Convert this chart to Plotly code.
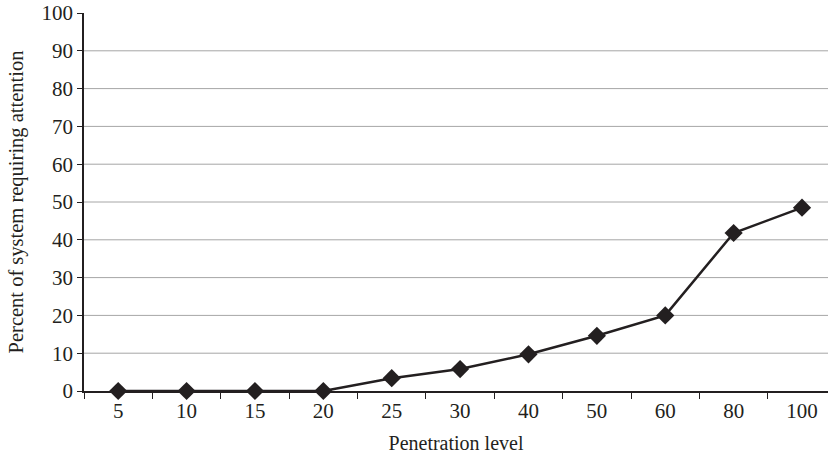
import plotly.graph_objects as go

# Penetration levels (categorical x) and share of system needing attention (%)
penetration = ["5", "10", "15", "20", "25", "30", "40", "50", "60", "80", "100"]
percent_attention = [0, 0, 0, 0, 3.4, 5.8, 9.7, 14.6, 20.0, 41.8, 48.5]
y_ticks = list(range(0, 101, 10))

ink = "#231f20"
grid = "#a6a6a6"
serif = "Liberation Serif, Times New Roman, serif"

fig = go.Figure()
fig.add_trace(go.Scatter(
    x=penetration,
    y=percent_attention,
    mode="lines+markers",
    line=dict(color=ink, width=2.5),
    marker=dict(symbol="diamond", size=14, color=ink),
    cliponaxis=False,
    showlegend=False,
))

# horizontal gridlines at inner tick levels only
for level in y_ticks[1:-1]:
    fig.add_shape(type="line", xref="paper", yref="y", x0=0, x1=1,
                  y0=level, y1=level, layer="below",
                  line=dict(color=grid, width=1))

fig.update_layout(
    width=828, height=456,
    margin=dict(l=84, r=0, t=13, b=65),
    paper_bgcolor="white", plot_bgcolor="white",
    font=dict(family=serif, size=20, color=ink),
    xaxis=dict(
        type="category",
        range=[-0.5, 10.38],
        tickson="boundaries",
        ticks="outside", ticklen=6, tickwidth=1, tickcolor=ink,
        showline=True, linecolor=ink, linewidth=1.5,
        showgrid=False, zeroline=False,
        tickfont=dict(size=21),
        title=dict(text="Penetration level", font=dict(size=20), standoff=14),
    ),
    yaxis=dict(
        range=[0, 100],
        tickvals=y_ticks,
        ticks="outside", ticklen=5, tickwidth=1, tickcolor=ink,
        showline=True, linecolor=ink, linewidth=1.5,
        showgrid=False, zeroline=False,
        tickfont=dict(size=21),
        title=dict(text="Percent of system requiring attention",
                   font=dict(size=20.5), standoff=12),
    ),
)

fig.write_html("out.html")
